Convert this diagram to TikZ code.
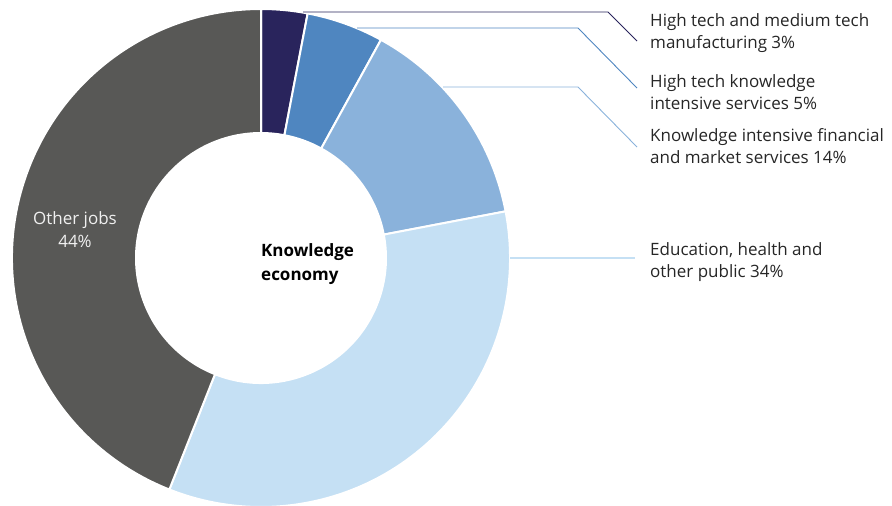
\documentclass[tikz,border=0pt]{standalone}
\usepackage{fontspec}
\setmainfont{Open Sans}
\usetikzlibrary{calc}
\definecolor{navy}{RGB}{41,36,92}
\definecolor{midblue}{RGB}{79,134,192}
\definecolor{lightblue}{RGB}{138,178,219}
\definecolor{paleblue}{RGB}{197,224,244}
\definecolor{darkgray}{RGB}{88,88,86}
\begin{document}
\begin{tikzpicture}[x=1pt,y=1pt,
    lbl/.style={anchor=west,align=left,inner sep=0pt,text=black!85,font=\fontsize{17}{22}\selectfont},
    lead/.style={line width=0.9pt}]
    \useasboundingbox (0,0) rectangle (892,-506);
    \coordinate (c) at (261,-258);

    % Slices
    \foreach \a/\b/\col in {90/79.2/navy, 79.2/61.2/midblue, 61.2/10.8/lightblue,
                            10.8/-111.6/paleblue, -111.6/-270/darkgray}
      \filldraw[fill=\col,draw=white,line width=2pt]
        ($(c)+(\a:249pt)$) arc[start angle=\a,end angle=\b,radius=249pt]
        -- ($(c)+(\b:125pt)$) arc[start angle=\b,end angle=\a,radius=125pt] -- cycle;

    % Labels
    \node[lbl] (hmt) at (650,-33) {High tech and medium tech\\manufacturing 3\%};
    \node[lbl] (hkis) at (650,-92) {High tech knowledge\\intensive services 5\%};
    \node[lbl] (kifm) at (650,-146) {Knowledge intensive financial\\and market services 14\%};
    \node[lbl] (ehp) at (650,-262) {Education, health and\\other public 34\%};
    \node[align=center,inner sep=0pt,text=white!94!black,font=\fontsize{17}{23}\selectfont] (oj) at (75,-230) {Other jobs\\44\%};
    \node[lbl,text=black,font=\fontsize{17}{24}\selectfont\bfseries] (ke) at (261,-264) {Knowledge\\economy};

    % Leader lines
    \coordinate (s1) at (303,-12);  \coordinate (k1) at (608,-12);  \coordinate (e1) at (637,-41);
    \coordinate (s2) at (357,-28);  \coordinate (k2) at (578,-28);  \coordinate (e2) at (637,-88);
    \coordinate (s3) at (443,-87);  \coordinate (k3) at (578,-87);  \coordinate (e3) at (637,-147);
    \coordinate (s4) at (510,-258); \coordinate (e4) at (635,-258);
    \draw[lead,navy] (s1) -- (k1) -- (e1);
    \draw[lead,midblue] (s2) -- (k2) -- (e2);
    \draw[lead,lightblue] (s3) -- (k3) -- (e3);
    \draw[lead,paleblue,line width=1.5pt] (s4) -- (e4);
\end{tikzpicture}
\end{document}
